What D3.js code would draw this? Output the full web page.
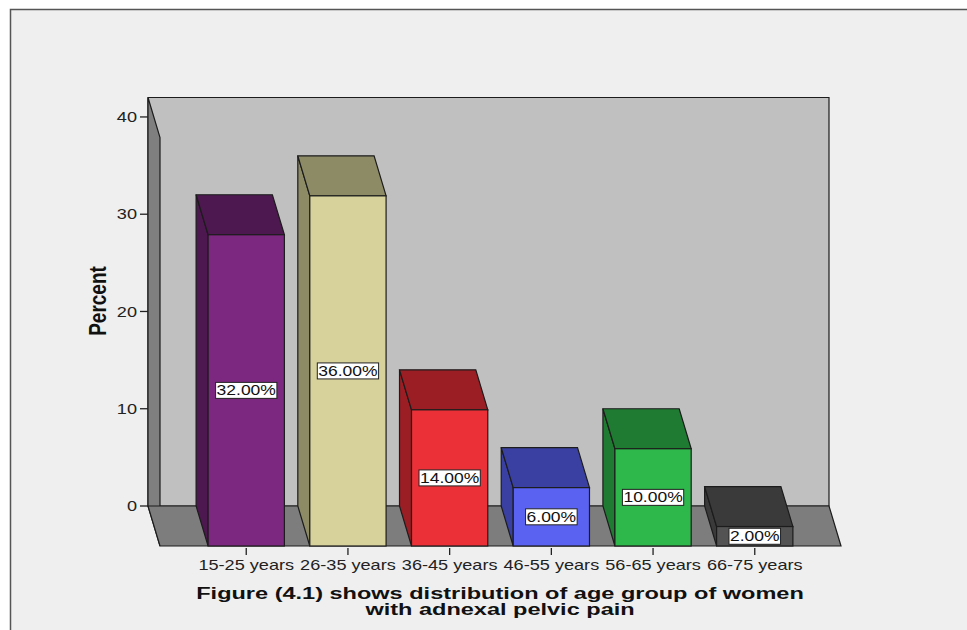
<!DOCTYPE html>
<html>
<head>
<meta charset="utf-8">
<script src="https://cdn.jsdelivr.net/npm/d3@7"></script>
<style>
  html, body { margin: 0; padding: 0; background: #ffffff; }
  svg { display: block; }
  text { font-family: "Liberation Sans", Arial, Helvetica, sans-serif; }
</style>
</head>
<body>
<svg id="chart" width="967" height="630"></svg>
<script>
// Age groups and their share of patients (percent)
const categories = ["15-25 years", "26-35 years", "36-45 years", "46-55 years", "56-65 years", "66-75 years"];
const percents = [32, 36, 14, 6, 10, 2];
const yTicks = [0, 10, 20, 30, 40];
const valueLabels = ["32.00%", "36.00%", "14.00%", "6.00%", "10.00%", "2.00%"];
const frontColors = ["#7d2880", "#d7d29b", "#ec3038", "#5a62f2", "#2eb84b", "#535353"];
const shadeColors = ["#4d184f", "#8d8a66", "#9b1e24", "#3a40a2", "#1f7a32", "#3a3a3a"];
const titleLines = ["Figure (4.1) shows distribution of age group of women", "with adnexal pelvic pain"];
const yTitle = "Percent";

const svg = d3.select("#chart");
const W = 967, H = 630;
const STRETCH = 1.25;      // horizontal widening of all text glyphs
const DX = 12, DY = 40;    // depth offset from back plane to front plane
const LINE = "#1c1c1c";

// Back-plane value scale
const y = d3.scaleLinear().domain([0, 42]).range([506, 97.5]);
// Front-plane category scale
const x = d3.scaleBand().domain(categories).range([160, 841]).paddingInner(0.25).paddingOuter(0.473);

// Frame background
svg.append("rect").attr("x", 10).attr("y", 9).attr("width", W - 10).attr("height", H - 9)
  .attr("fill", "#efefef");
svg.append("path").attr("d", `M10.5,${H} L10.5,9.5 L${W},9.5`)
  .attr("fill", "none").attr("stroke", "#555").attr("stroke-width", 1.5);

const xL = 148, xR = 829;               // back wall horizontal extent
const yTop = y(42), y0 = y(0);

const poly = pts => "M" + pts.map(p => p.join(",")).join("L") + "Z";

// Back wall
svg.append("path").attr("d", poly([[xL, yTop], [xR, yTop], [xR, y0], [xL, y0]]))
  .attr("fill", "#c0c0c0").attr("stroke", LINE).attr("stroke-width", 1.2);
// Left wall
svg.append("path").attr("d", poly([[xL, yTop], [xL + DX, yTop + DY], [xL + DX, y0 + DY], [xL, y0]]))
  .attr("fill", "#7f7f7f").attr("stroke", LINE).attr("stroke-width", 1.2);
// Floor
svg.append("path").attr("d", poly([[xL, y0], [xR, y0], [xR + DX, y0 + DY], [xL + DX, y0 + DY]]))
  .attr("fill", "#7d7d7d").attr("stroke", LINE).attr("stroke-width", 1.2);

// Y axis ticks and labels on the back edge of the left wall
const yAxis = svg.append("g");
yTicks.forEach(t => {
  yAxis.append("line").attr("x1", xL - 8).attr("x2", xL).attr("y1", y(t)).attr("y2", y(t))
    .attr("stroke", "#222").attr("stroke-width", 1.3);
  yAxis.append("text").attr("transform", `translate(${xL - 11},${y(t)}) scale(${STRETCH},1)`)
    .attr("text-anchor", "end").attr("dy", "0.36em")
    .attr("font-size", 14.5).attr("fill", "#222").text(t);
});

// Y axis title
svg.append("text")
  .attr("transform", `translate(106,301) scale(${STRETCH},1) rotate(-90)`)
  .attr("text-anchor", "middle").attr("font-size", 19).attr("font-weight", "bold")
  .attr("fill", "#111").text(yTitle);

// 3D bars
const bars = svg.append("g");
categories.forEach((c, i) => {
  const v = percents[i];
  const x0 = x(c), x1 = x0 + x.bandwidth();
  const yt = y(v) + DY, yb = y0 + DY;
  const g = bars.append("g");
  // left side face
  g.append("path").attr("d", poly([[x0 - DX, yt - DY], [x0, yt], [x0, yb], [x0 - DX, yb - DY]]))
    .attr("fill", shadeColors[i]).attr("stroke", LINE).attr("stroke-width", 1.2);
  // top face
  g.append("path").attr("d", poly([[x0 - DX, yt - DY], [x1 - DX, yt - DY], [x1, yt], [x0, yt]]))
    .attr("fill", shadeColors[i]).attr("stroke", LINE).attr("stroke-width", 1.2);
  // front face
  g.append("rect").attr("x", x0).attr("y", yt).attr("width", x1 - x0).attr("height", yb - yt)
    .attr("fill", frontColors[i]).attr("stroke", LINE).attr("stroke-width", 1.2);
});

// Category ticks and labels
const xAxis = svg.append("g");
categories.forEach(c => {
  const cx = x(c) + x.bandwidth() / 2;
  xAxis.append("line").attr("x1", cx).attr("x2", cx).attr("y1", y0 + DY + 2).attr("y2", y0 + DY + 9)
    .attr("stroke", "#222").attr("stroke-width", 1.3);
  xAxis.append("text").attr("transform", `translate(${cx},570) scale(${STRETCH},1)`)
    .attr("text-anchor", "middle").attr("font-size", 14.5).attr("fill", "#222").text(c);
});

// Value labels in white boxes at the middle of each front face
const labels = svg.append("g");
categories.forEach((c, i) => {
  const cx = x(c) + x.bandwidth() / 2;
  const cy = ((y(percents[i]) + DY) + (y0 + DY)) / 2;
  const g = labels.append("g");
  const box = g.append("rect");
  const t = g.append("text").attr("transform", `translate(${cx},${cy}) scale(${STRETCH},1)`)
    .attr("text-anchor", "middle").attr("dy", "0.36em").attr("font-size", 14)
    .attr("fill", "#111").text(valueLabels[i]);
  const w = t.node().getComputedTextLength() * STRETCH + 2;
  box.attr("x", cx - w / 2).attr("y", cy - 8).attr("width", w).attr("height", 16)
    .attr("fill", "#ffffff").attr("stroke", "#222").attr("stroke-width", 1);
});

// Figure caption (two bold lines)
const TITLE_STRETCH = 1.36;
titleLines.forEach((line, i) => {
  svg.append("text").attr("transform", `translate(500,${599 + i * 16}) scale(${TITLE_STRETCH},1)`)
    .attr("text-anchor", "middle").attr("font-size", 17.3).attr("font-weight", "bold")
    .attr("fill", "#111").text(line);
});
</script>
</body>
</html>
